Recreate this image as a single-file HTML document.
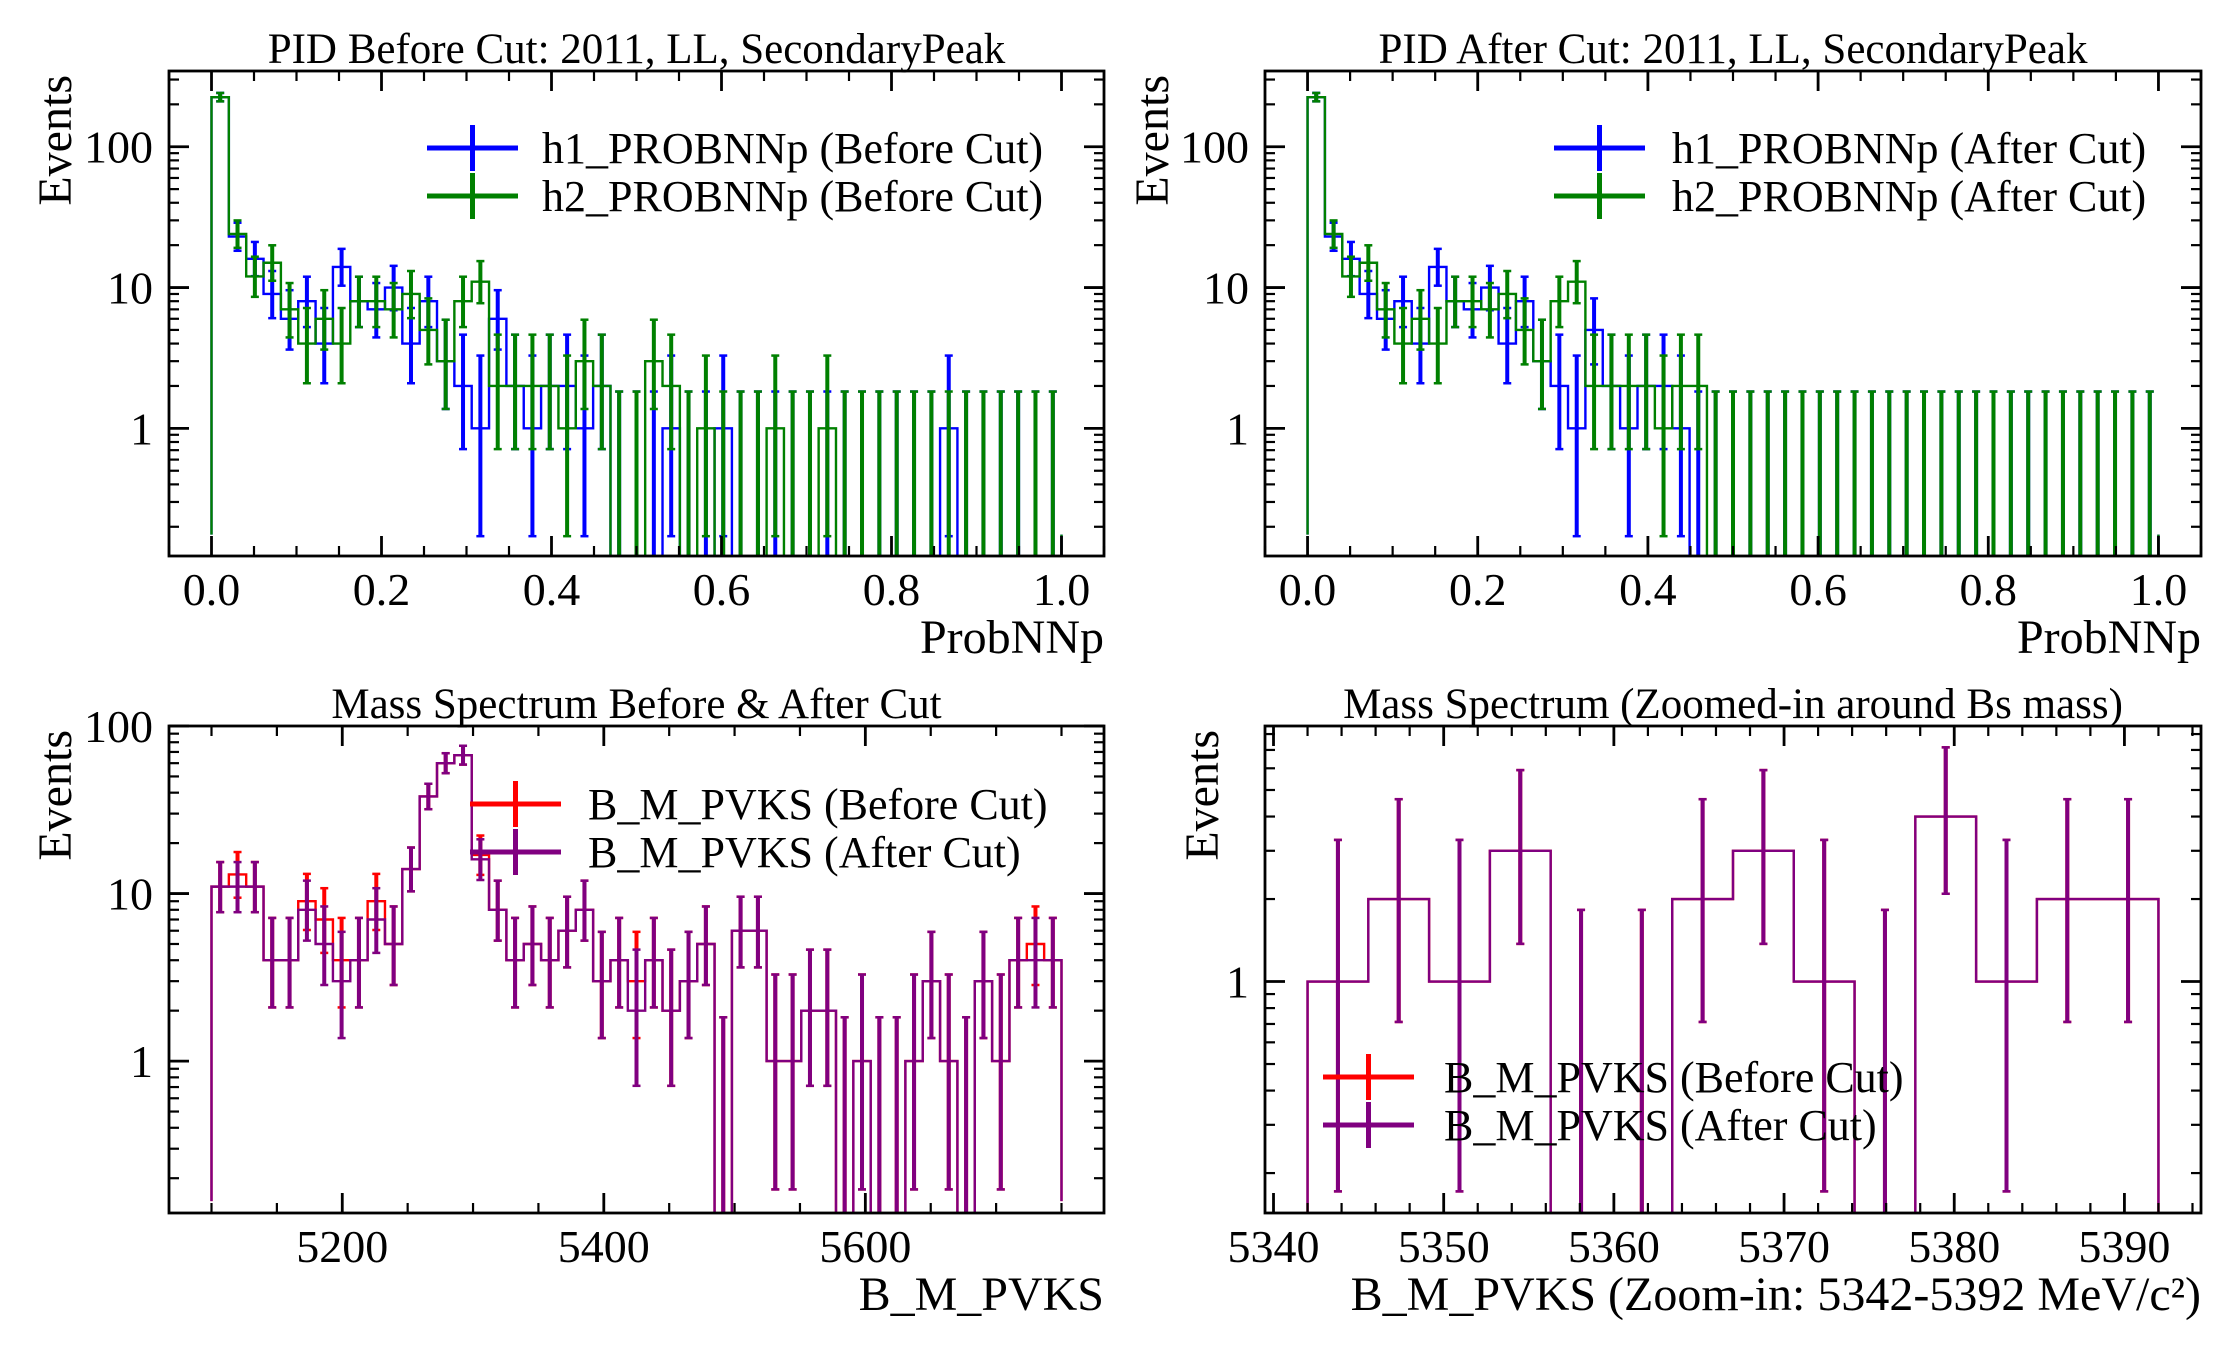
<!DOCTYPE html>
<html><head><meta charset="utf-8">
<style>
html,body{margin:0;padding:0;background:#fff}
svg{display:block}
text{font-family:"Liberation Serif","DejaVu Serif",serif;fill:#000}
</style></head>
<body>
<svg id="fig" width="2231" height="1350" viewBox="0 0 2231 1350" xmlns="http://www.w3.org/2000/svg"></svg>
<script>
// ---------- data ----------
const pidRange = [0, 1];
const pidBinCount = 49;
const massRange = [5100, 5750];
const massBinCount = 49;
const zoomRange = [5342, 5392];
const zoomBinCount = 14;

const h1Before = [225,23,16,9,6,8,4,14,8,7,10,4,8,3,2,1,6,2,1,2,2,1,2,0,0,0,1,0,0,1,0,0,0,0,0,0,0,0,0,0,0,0,1,0,0,0,0,0,0];
const h2Before = [225,24,12,15,7,4,6,4,8,8,7,9,5,3,8,11,2,2,2,2,1,3,2,0,0,3,2,0,1,0,0,0,1,0,0,1,0,0,0,0,0,0,0,0,0,0,0,0,0];
const h1After  = [225,23,16,9,6,8,4,14,8,7,10,4,8,3,2,1,5,2,1,2,2,1,0,0,0,0,0,0,0,0,0,0,0,0,0,0,0,0,0,0,0,0,0,0,0,0,0,0,0];
const h2After  = [225,24,12,15,7,4,6,4,8,8,7,9,5,3,8,11,2,2,2,2,1,2,2,0,0,0,0,0,0,0,0,0,0,0,0,0,0,0,0,0,0,0,0,0,0,0,0,0,0];

const massBefore = [11,13,11,4,4,9,7,4,4,9,5,14,38,60,67,17,8,4,5,4,6,8,3,4,3,4,2,3,5,0,6,6,1,1,2,2,0,1,0,0,1,3,1,0,3,1,4,5,4];
const massAfter  = [11,11,11,4,4,8,5,3,4,7,5,14,38,60,67,16,8,4,5,4,6,8,3,4,2,4,2,3,5,0,6,6,1,1,2,2,0,1,0,0,1,3,1,0,3,1,4,4,4];

const zoomBefore = [1,2,1,3,0,0,2,3,1,0,4,1,2,2];
const zoomAfter  = [1,2,1,3,0,0,2,3,1,0,4,1,2,2];

const pidXTicks = [0, 0.2, 0.4, 0.6, 0.8, 1.0];
const pidXTickLabels = ["0.0","0.2","0.4","0.6","0.8","1.0"];
const massXTicks = [5200, 5400, 5600];
const massXTickLabels = ["5200","5400","5600"];
const zoomXTicks = [5340, 5350, 5360, 5370, 5380, 5390];
const zoomXTickLabels = ["5340","5350","5360","5370","5380","5390"];
const yTicks = [1, 10, 100];
const yTickLabels = ["1","10","100"];

// ---------- helpers ----------
const NS = "http://www.w3.org/2000/svg";
const svg = document.getElementById("fig");
function mk(tag, parent) { const e = document.createElementNS(NS, tag); parent.appendChild(e); return e; }
function garLow(n) { if (n <= 0) return 0; return n * Math.pow(1 - 1/(9*n) - 1/(3*Math.sqrt(n)), 3); }
function garHigh(n) { const m = n + 1; return m * Math.pow(1 - 1/(9*m) + 1/(3*Math.sqrt(m)), 3); }

function drawPanel(p, idx) {
  const g = mk("g", svg);
  
  
  const L = p.box[0], R = p.box[1], T = p.box[2], B = p.box[3];
  const xs = v => L + (v - p.xlim[0]) / (p.xlim[1] - p.xlim[0]) * (R - L);
  const lmin = Math.log10(p.ylim[0]), lmax = Math.log10(p.ylim[1]);
  const ys = v => v <= 0 ? B + 60 : B - (Math.log10(v) - lmin) / (lmax - lmin) * (B - T);

  const defs = mk("defs", g);
  const cp = mk("clipPath", defs);
  cp.setAttribute("id", "clip" + idx);
  const cr = mk("rect", cp);
  cr.setAttribute("x", L); cr.setAttribute("y", T); cr.setAttribute("width", R - L); cr.setAttribute("height", B - T);

  const plot = mk("g", g);
  plot.setAttribute("clip-path", "url(#clip" + idx + ")");
  
  

  const bw = (p.range[1] - p.range[0]) / p.nbins;
  p.series.forEach((s, si) => {
    const vals = s.values;
    let d = "M" + xs(p.range[0]).toFixed(2) + "," + ys(p.baseline).toFixed(2);
    for (let i = 0; i < vals.length; i++) {
      const y = ys(vals[i]).toFixed(2);
      d += " V" + y + " H" + xs(p.range[0] + (i + 1) * bw).toFixed(2);
    }
    d += " V" + ys(p.baseline).toFixed(2);
    const path = mk("path", plot);
    path.setAttribute("d", d);
    path.setAttribute("fill", "none");
    path.setAttribute("stroke", s.color);
    path.setAttribute("stroke-width", "2.4");
    
    
    const eg = mk("g", plot);
    
    
    for (let i = 0; i < vals.length; i++) {
      const cx = xs(p.range[0] + (i + 0.5) * bw);
      const y1 = ys(garHigh(vals[i])), y0 = ys(garLow(vals[i]));
      const ln = mk("line", eg);
      ln.setAttribute("x1", cx); ln.setAttribute("x2", cx);
      ln.setAttribute("y1", y0); ln.setAttribute("y2", y1);
      ln.setAttribute("stroke", s.color); ln.setAttribute("stroke-width", "4");
      
      
      [y0, y1].forEach(yy => {
        const c = mk("line", eg);
        c.setAttribute("x1", cx - 4); c.setAttribute("x2", cx + 4);
        c.setAttribute("y1", yy); c.setAttribute("y2", yy);
        c.setAttribute("stroke", s.color); c.setAttribute("stroke-width", "2.5");
      });
    }
  });

  // ticks
  const tg = mk("g", g);
  
  
  function tick(x1, y1, x2, y2, w) {
    const t = mk("line", tg);
    t.setAttribute("x1", x1); t.setAttribute("y1", y1); t.setAttribute("x2", x2); t.setAttribute("y2", y2);
    t.setAttribute("stroke", "#000"); t.setAttribute("stroke-width", w);
  }
  const st = p.xminor;
  for (let v = Math.ceil(p.xlim[0] / st) * st; v <= p.xlim[1] + 1e-9; v += st) {
    const x = xs(v);
    const major = p.xticks.some(t => Math.abs(t - v) < st / 10);
    const len = major ? 20 : 10;
    tick(x, B, x, B - len, major ? 2.8 : 2.2);
    tick(x, T, x, T + len, major ? 2.8 : 2.2);
  }
  for (let dcd = Math.floor(lmin); dcd <= Math.ceil(lmax); dcd++) {
    for (let m = 1; m <= 9; m++) {
      const v = m * Math.pow(10, dcd);
      if (v < p.ylim[0] || v > p.ylim[1]) continue;
      const y = ys(v);
      const len = m === 1 ? 20 : 10;
      tick(L, y, L + len, y, m === 1 ? 2.8 : 2.2);
      tick(R, y, R - len, y, m === 1 ? 2.8 : 2.2);
    }
  }
  const frame = mk("rect", g);
  frame.setAttribute("x", L); frame.setAttribute("y", T); frame.setAttribute("width", R - L); frame.setAttribute("height", B - T);
  frame.setAttribute("fill", "none"); frame.setAttribute("stroke", "#000"); frame.setAttribute("stroke-width", "2.8");
  
  

  p.xticks.forEach((v, i) => {
    const t = mk("text", g);
    t.setAttribute("x", xs(v)); t.setAttribute("y", B + 49);
    t.setAttribute("text-anchor", "middle"); t.setAttribute("font-size", "46");
    
    
    t.textContent = p.xlabels[i];
  });
  yTicks.forEach((v, i) => {
    if (v < p.ylim[0] || v > p.ylim[1] * 1.001) return;
    const t = mk("text", g);
    t.setAttribute("x", L - 16); t.setAttribute("y", ys(v) + 16);
    t.setAttribute("text-anchor", "end"); t.setAttribute("font-size", "46");
    
    
    t.textContent = yTickLabels[i];
  });

  const title = mk("text", g);
  title.setAttribute("x", (L + R) / 2); title.setAttribute("y", T - 8);
  title.setAttribute("text-anchor", "middle"); title.setAttribute("font-size", "43");
  
  
  title.textContent = p.title;

  const xl = mk("text", g);
  xl.setAttribute("x", R); xl.setAttribute("y", B + 97);
  xl.setAttribute("text-anchor", "end"); xl.setAttribute("font-size", "48");
  
  
  xl.textContent = p.xtitle;

  const yl = mk("text", g);
  yl.setAttribute("transform", "translate(" + p.ylabelX + "," + (T + 4) + ") rotate(-90)");
  yl.setAttribute("text-anchor", "end"); yl.setAttribute("font-size", "48");
  
  
  yl.textContent = "Events";

  const lg = mk("g", g);
  
  
  p.series.forEach((s, si) => {
    const cy = p.legend.y + si * 48;
    const e = mk("g", lg);
    
    
    const hl = mk("line", e);
    hl.setAttribute("x1", p.legend.x); hl.setAttribute("x2", p.legend.x + 91);
    hl.setAttribute("y1", cy); hl.setAttribute("y2", cy);
    hl.setAttribute("stroke", s.color); hl.setAttribute("stroke-width", "5");
    const vl = mk("line", e);
    vl.setAttribute("x1", p.legend.x + 45.5); vl.setAttribute("x2", p.legend.x + 45.5);
    vl.setAttribute("y1", cy - 23); vl.setAttribute("y2", cy + 23);
    vl.setAttribute("stroke", s.color); vl.setAttribute("stroke-width", "5");
    const tx = mk("text", e);
    tx.setAttribute("x", p.legend.tx); tx.setAttribute("y", cy + 15);
    tx.setAttribute("font-size", "44");
    tx.textContent = s.label;
  });
}

const panels = [
  { name: "pid-before-cut-panel", box: [169, 1104, 71, 556], xlim: [-0.05, 1.05], ylim: [0.124, 345],
    range: pidRange, nbins: pidBinCount, baseline: 0.176, xminor: 0.05, xticks: pidXTicks, xlabels: pidXTickLabels,
    title: "PID Before Cut: 2011, LL, SecondaryPeak", xtitle: "ProbNNp", ylabelX: 71,
    legend: { x: 427, tx: 542, y: 148 },
    series: [ { key: "h1", values: h1Before, color: "#0000ff", label: "h1_PROBNNp (Before Cut)" },
              { key: "h2", values: h2Before, color: "#008000", label: "h2_PROBNNp (Before Cut)" } ] },
  { name: "pid-after-cut-panel", box: [1265, 2201, 71, 556], xlim: [-0.05, 1.05], ylim: [0.124, 345],
    range: pidRange, nbins: pidBinCount, baseline: 0.176, xminor: 0.05, xticks: pidXTicks, xlabels: pidXTickLabels,
    title: "PID After Cut: 2011, LL, SecondaryPeak", xtitle: "ProbNNp", ylabelX: 1168,
    legend: { x: 1554, tx: 1672, y: 148 },
    series: [ { key: "h1", values: h1After, color: "#0000ff", label: "h1_PROBNNp (After Cut)" },
              { key: "h2", values: h2After, color: "#008000", label: "h2_PROBNNp (After Cut)" } ] },
  { name: "mass-spectrum-panel", box: [169, 1104, 726, 1213], xlim: [5067.5, 5782.5], ylim: [0.124, 100],
    range: massRange, nbins: massBinCount, baseline: 0.146, xminor: 50, xticks: massXTicks, xlabels: massXTickLabels,
    title: "Mass Spectrum Before & After Cut", xtitle: "B_M_PVKS", ylabelX: 71,
    legend: { x: 470, tx: 588, y: 804 },
    series: [ { key: "before-cut", values: massBefore, color: "#ff0000", label: "B_M_PVKS (Before Cut)" },
              { key: "after-cut", values: massAfter, color: "#800080", label: "B_M_PVKS (After Cut)" } ] },
  { name: "mass-zoom-panel", box: [1265, 2201, 726, 1213], xlim: [5339.5, 5394.5], ylim: [0.143, 8.56],
    range: zoomRange, nbins: zoomBinCount, baseline: 0.143, xminor: 2, xticks: zoomXTicks, xlabels: zoomXTickLabels,
    title: "Mass Spectrum (Zoomed-in around Bs mass)", xtitle: "B_M_PVKS (Zoom-in: 5342-5392 MeV/c\u00B2)", ylabelX: 1218,
    legend: { x: 1323, tx: 1444, y: 1077 },
    series: [ { key: "before-cut", values: zoomBefore, color: "#ff0000", label: "B_M_PVKS (Before Cut)" },
              { key: "after-cut", values: zoomAfter, color: "#800080", label: "B_M_PVKS (After Cut)" } ] }
];
panels.forEach((p, i) => drawPanel(p, i));
</script>
</body></html>
